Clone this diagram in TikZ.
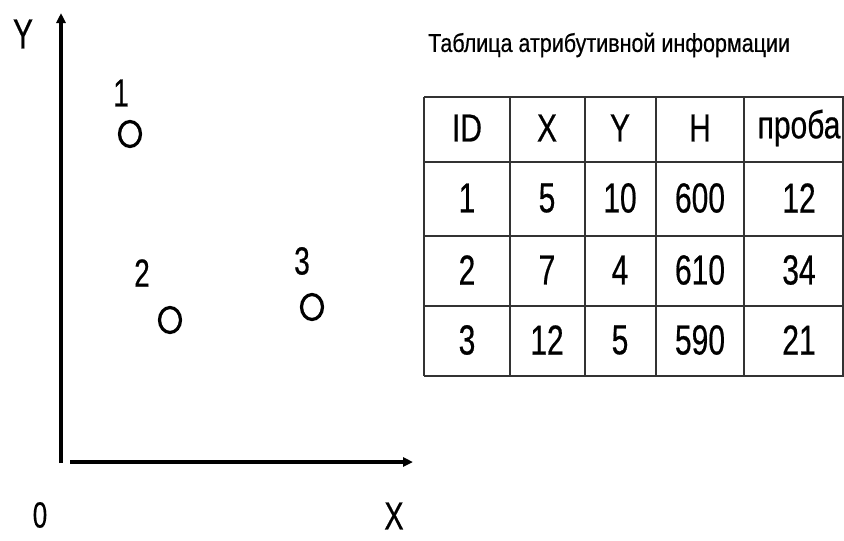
\documentclass[tikz,border=0pt]{standalone}
\usepackage{fontspec}
\setmainfont{Liberation Sans}[FakeBold=0.6]
\usetikzlibrary{arrows.meta}
% tall, narrow lettering
\newcommand{\tallt}[2][1.4]{\scalebox{1}[#1]{#2}}
\begin{document}
\begin{tikzpicture}[x=1pt,y=-1pt,
  axis/.style={line width=3.2pt,-{Triangle[length=10pt,width=9pt]}},
  lbl/.style={inner sep=0pt,font=\fontsize{28}{32}\selectfont},
  cell/.style={inner sep=0pt,font=\fontsize{30}{34}\selectfont},
  grid/.style={line width=2.5pt,draw=black!80}]
\useasboundingbox (0,0) rectangle (844,541);

% axes
\coordinate (o1) at (61,463);
\coordinate (ytip) at (61,13);
\coordinate (o2) at (70,462);
\coordinate (xtip) at (413,462);
\draw[axis] (o1) -- (ytip);
\draw[axis] (o2) -- (xtip);
\node[lbl,font=\fontsize{30}{34}\selectfont] (ylab) at (23,34) {\tallt{Y}};
\node[lbl,font=\fontsize{26}{30}\selectfont] (zero) at (40,515) {\tallt{0}};
\node[lbl,font=\fontsize{29}{34}\selectfont] (xlab) at (394,516) {\tallt[1.35]{X}};

% sample points
\foreach \n/\px/\py/\lx/\ly in {1/130/134/121/93, 2/170/320/142/273, 3/312/307/302/261}{
  \draw[line width=3.2pt] (\px,\py) ellipse [x radius=10.5pt, y radius=12.5pt];
  \node[lbl] (p\n) at (\lx,\ly) {\tallt{\n}};
}

% attribute table
\node[inner sep=0pt,anchor=west,font=\fontsize{21.5}{24}\selectfont] (title) at (428,45)
  {\tallt[1.2]{Таблица атрибутивной информации}};
\foreach \yy in {97,162,236,306,376}
  \draw[grid] (424,\yy) -- (846,\yy);
\foreach \xx in {424,510,585,656,744,843}
  \draw[grid] (\xx,97) -- (\xx,376);
\foreach \cx/\t [count=\i] in {467/ID,547/X,620/Y,700/H,799/проба}
  \node[cell] (h\i) at (\cx,128) {\tallt[1.3]{\t}};
\foreach \ry/\a/\b/\c/\d/\e [count=\r] in {
    198/1/5/10/600/12,
    270/2/7/4/610/34,
    340/3/12/5/590/21}{
  \node[cell] (r\r a) at (467,\ry) {\tallt{\a}};
  \node[cell] (r\r b) at (547,\ry) {\tallt{\b}};
  \node[cell] (r\r c) at (620,\ry) {\tallt{\c}};
  \node[cell] (r\r d) at (700,\ry) {\tallt{\d}};
  \node[cell] (r\r e) at (799,\ry) {\tallt{\e}};
}
\end{tikzpicture}
\end{document}
